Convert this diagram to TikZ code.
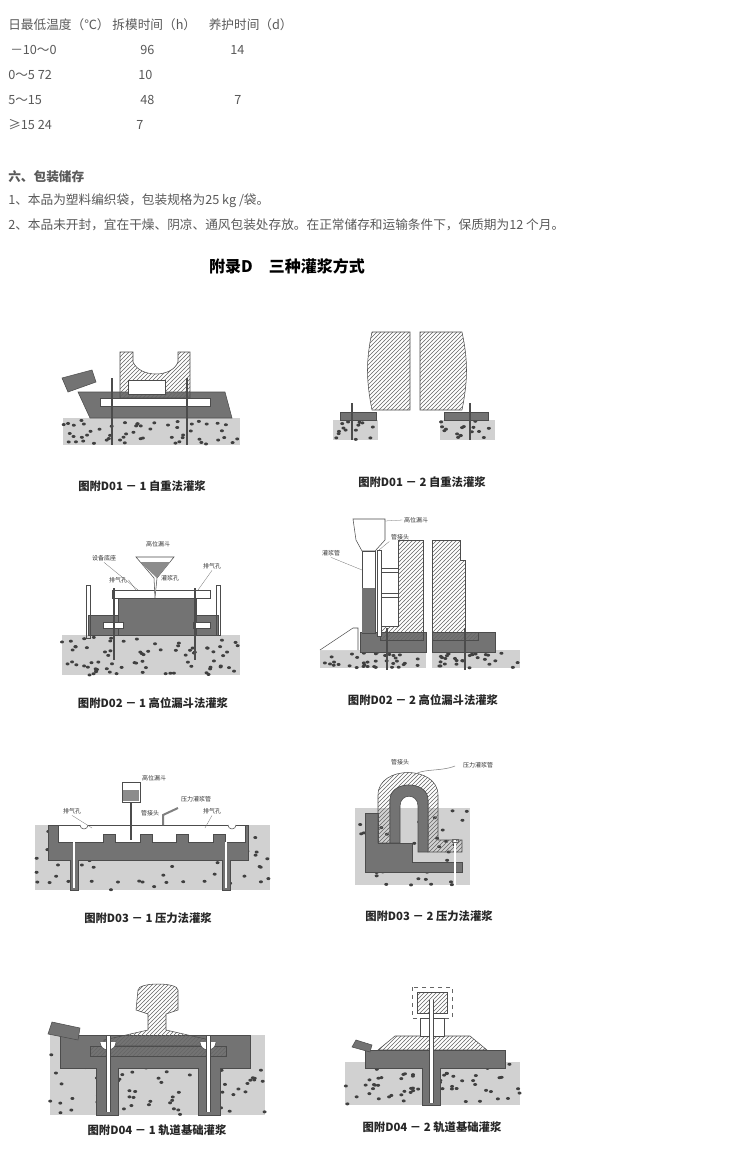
\documentclass[tikz,border=0pt]{standalone}
\usepackage{fontspec}
\newfontfamily\cjk{Noto Sans CJK SC}
\usetikzlibrary{patterns,calc}
\tikzset{
  txt/.style={anchor=west, inner sep=0pt, text=black!65, font=\cjk\fontsize{9.5}{11}\selectfont},
  figcap/.style={inner sep=0pt, text=black!85, font=\cjk\bfseries\fontsize{8.5}{10}\selectfont},
  lbl/.style={inner sep=1pt, text=black!80, font=\cjk\fontsize{4.5}{5}\selectfont},
  concrete/.style={fill=black!18, draw=none},
  grout/.style={fill=black!55, draw=black!70, thin},
  hatch/.style={pattern=north east lines, pattern color=black!60, draw=black!70, thin},
  plate/.style={fill=white, draw=black!70, thin},
  bolt/.style={line width=2.2pt, black!70},
  lead/.style={black!60, very thin},
}
\def\specks#1#2#3#4#5{%
  \foreach \k in {1,...,#5}{%
    \pgfmathsetmacro\sx{#1+rnd*(#3-#1)}%
    \pgfmathsetmacro\sy{#2+rnd*(#4-#2)}%
    \fill[black!75] (\sx,\sy) ellipse (2 and 1.5);}}
\begin{document}
\begin{tikzpicture}[x=0.75pt, y=-0.75pt]
  \pgfmathsetseed{7}
  \useasboundingbox[fill=white] (0,0) rectangle (741,1157);

  %% Table and text
  \node[txt] (h1) at (8,25) {日最低温度（℃） 拆模时间（h）\quad 养护时间（d）};
  \node[txt] (r1a) at (10,50) {－10～0};  \node[txt] (r1b) at (140,50) {96}; \node[txt] (r1c) at (230,50) {14};
  \node[txt] (r2a) at (8,75) {0～5 72};   \node[txt] (r2b) at (138,75) {10};
  \node[txt] (r3a) at (8,100) {5～15};    \node[txt] (r3b) at (140,100) {48}; \node[txt] (r3c) at (234,100) {7};
  \node[txt] (r4a) at (8,125) {≥15 24};   \node[txt] (r4b) at (136,125) {7};
  \node[txt, font=\cjk\bfseries\fontsize{9.5}{11}\selectfont] (sec) at (8,177) {六、包装储存};
  \node[txt] (p1) at (8,201) {1、本品为塑料编织袋，包装规格为25 kg /袋。};
  \node[txt] (p2) at (8,225) {2、本品未开封，宜在干燥、阴凉、通风包装处存放。在正常储存和运输条件下，保质期为12 个月。};
  \node[inner sep=0pt, font=\cjk\bfseries\fontsize{12}{14}\selectfont] (title) at (287,266) {附录D\quad 三种灌浆方式};

  %% D01-1
  \fill[concrete] (63,418) rectangle (240,445); \specks{63}{420}{240}{444}{55}
  \draw[grout] (78,392) -- (225,392) -- (232,418) -- (90,418) -- cycle;
  \draw[hatch] (120,352) -- (133,352) -- (133,362) .. controls (140,378) and (172,378) .. (178,362) -- (178,352) -- (190,352) -- (190,398) -- (120,398) -- cycle;
  \draw[plate] (128,380) rectangle (165,394);
  \draw[grout] (62,378) -- (92,370) -- (96,382) -- (68,392) -- cycle;
  \draw[plate] (100,398) rectangle (210,406);
  \foreach \bx in {112,187} \draw[bolt] (\bx,378) -- (\bx,445);
  \node[figcap] (c11) at (142,486) {图附D01 － 1\ 自重法灌浆};

  %% D01-2
  \draw[hatch] (372,332) -- (410,332) -- (410,410) -- (372,410) .. controls (366,380) and (366,360) .. (372,332);
  \draw[hatch] (420,332) -- (462,332) .. controls (468,360) and (468,380) .. (462,410) -- (420,410) -- cycle;
  \fill[concrete] (333,420) rectangle (378,440); \specks{333}{421}{378}{440}{14}
  \fill[concrete] (440,420) rectangle (495,440); \specks{440}{421}{495}{440}{16}
  \draw[grout] (340,412) rectangle (376,420);
  \draw[grout] (444,412) rectangle (488,420);
  \foreach \bx in {352,470} \draw[bolt] (\bx,403) -- (\bx,440);
  \node[figcap] (c12) at (422,482) {图附D01 － 2\ 自重法灌浆};

  %% D02-1
  \fill[concrete] (62,635) rectangle (240,675); \specks{62}{637}{240}{675}{75}
  \draw[grout] (88,615) rectangle (218,635);
  \draw[grout] (118,598) rectangle (196,635);
  \draw[plate] (103,622) rectangle (123,628);
  \draw[plate] (193,622) rectangle (210,628);
  \draw[plate] (112,590) rectangle (210,598);
  \draw[black!70] (86,585) rectangle (90,638);
  \draw[black!70] (216,585) rectangle (220,635);
  \draw[plate] (136,557) -- (174,557) -- (157,578) -- (155,598) -- (154,578) -- cycle;
  \fill[black!45] (140,562) -- (170,562) -- (157,578) -- cycle;
  \foreach \bx in {114,195} \draw[bolt] (\bx,588) -- (\bx,660);
  \node[lbl] (g1) at (158,544) {高位漏斗};
  \node[lbl] (g2) at (104,558) {设备底座};
  \node[lbl] (g3) at (212,566) {排气孔};
  \node[lbl] (g4) at (118,580) {排气孔};
  \node[lbl] (g5) at (170,578) {灌浆孔};
  \coordinate (t2) at (138,590); \coordinate (t3) at (198,590); \coordinate (t4) at (136,590);
  \draw[lead] (g2.south) -- (t2); \draw[lead] (g3.south) -- (t3); \draw[lead] (g4.east) -- (t4);
  \node[figcap] (c21) at (153,703) {图附D02 － 1\ 高位漏斗法灌浆};

  %% D02-2
  \fill[concrete] (320,650) rectangle (426,668); \specks{320}{652}{426}{668}{35}
  \fill[concrete] (432,650) rectangle (520,668); \specks{432}{652}{520}{668}{30}
  \draw[grout] (360,632) rectangle (426,652);
  \draw[grout] (432,632) rectangle (495,652);
  \draw[hatch] (398,540) -- (423,540) -- (423,632) -- (380,632) -- (380,626) -- (398,626) -- cycle;
  \draw[hatch] (432,540) -- (460,540) -- (460,560) -- (465,560) -- (465,632) -- (432,632) -- cycle;
  \draw[hatch] (380,632) rectangle (423,640);
  \draw[hatch] (432,632) rectangle (478,640);
  \draw[plate] (353,519) -- (385,519) -- (385,540) -- (375,551) -- (362,551) -- (356,540) -- cycle;
  \draw[plate] (362,551) rectangle (375,633);
  \fill[black!55] (362,588) rectangle (375,633);
  \draw[plate] (377,550) rectangle (381,636);
  \foreach \yy in {568,593} \draw[plate] (381,\yy) rectangle (398,\yy+4);
  \draw[plate] (320,650) -- (353,628) -- (358,628) -- (358,650);
  \foreach \bx in {387,465} \draw[bolt] (\bx,628) -- (\bx,670);
  \node[lbl] (q1) at (416,520) {高位漏斗};
  \node[lbl] (q2) at (400,537) {管接头};
  \node[lbl] (q3) at (331,553) {灌浆管};
  \coordinate (u1) at (385,521); \coordinate (u2) at (379,550); \coordinate (u3) at (362,570);
  \draw[lead] (q1.west) -- (u1); \draw[lead] (q2.south west) -- (u2); \draw[lead] (q3.south) -- (u3);
  \node[figcap] (c22) at (423,700) {图附D02 － 2\ 高位漏斗法灌浆};

  %% D03-1
  \fill[concrete] (35,825) rectangle (270,890); \specks{35}{827}{270}{890}{95}
  \draw[grout] (48,825) -- (248,825) -- (248,860) -- (230,860) -- (230,890) -- (222,890) -- (222,860) -- (78,860) -- (78,890) -- (70,890) -- (70,860) -- (48,860) -- cycle;
  \draw[plate] (58,825) -- (245,825) -- (245,842)
    \foreach \tx in {213,176,140,103} { -- (\tx+12,842) -- (\tx+12,834) -- (\tx,834) -- (\tx,842) } -- (58,842) -- cycle;
  \foreach \gx in {84,232} \draw[plate] (\gx-4,825) arc[start angle=180, end angle=0, radius=4];
  \foreach \bx in {74,226} \draw[white, line width=1.2pt] (\bx,842) -- (\bx,888);
  \draw[plate] (122,782) rectangle (140,802);
  \fill[black!45] (123,790) rectangle (139,801);
  \draw[black!70, line width=1.2pt] (131,802) -- (131,840);
  \draw[black!50, line width=1.5pt] (163,825) -- (163,815) -- (178,808);
  \node[lbl] (d1) at (154,778) {高位漏斗};
  \node[lbl] (d2) at (196,799) {压力灌浆管};
  \node[lbl] (d3) at (150,813) {管接头};
  \node[lbl] (d4) at (72,811) {排气孔};
  \node[lbl] (d5) at (212,811) {排气孔};
  \coordinate (e4) at (92,828); \coordinate (e5) at (205,828);
  \draw[lead] (d4.south) -- (e4); \draw[lead] (d5.south) -- (e5);
  \node[figcap] (c31) at (148,918) {图附D03 － 1\ 压力法灌浆};

  %% D03-2
  \fill[concrete] (355,808) rectangle (470,885); \specks{355}{810}{470}{885}{45}
  \draw[grout] (365,813) -- (378,813) -- (378,843) -- (412,843) -- (412,862) -- (462,862) -- (462,872) -- (365,872) -- cycle;
  \draw[hatch] (378,843) -- (378,795) .. controls (378,765) and (438,765) .. (438,795) -- (438,840) -- (462,840) -- (462,852) -- (428,852) -- (428,800) .. controls (428,780) and (390,780) .. (390,800) -- (390,843) -- cycle;
  \draw[grout] (390,843) -- (390,800) .. controls (390,780) and (428,780) .. (428,800) -- (428,852) -- (418,852) -- (418,806) .. controls (418,793) and (400,793) .. (400,806) -- (400,843) -- cycle;
  \draw[black!50] (413,776) .. controls (420,768) and (440,772) .. (455,766);
  \draw[white, line width=1.2pt] (455,840) -- (455,885);
  \draw[black!60] (452,839) rectangle (458,842);
  \node[lbl] (f1) at (400,762) {管接头};
  \node[lbl] (f2) at (478,765) {压力灌浆管};
  \node[figcap] (c32) at (429,916) {图附D03 － 2\ 压力法灌浆};

  %% D04-1
  \fill[concrete] (50,1035) rectangle (265,1115); \specks{50}{1037}{265}{1115}{85}
  \draw[grout] (60,1035) -- (250,1035) -- (250,1068) -- (220,1068) -- (220,1115) -- (198,1115) -- (198,1068) -- (118,1068) -- (118,1115) -- (96,1115) -- (96,1068) -- (60,1068) -- cycle;
  \draw[hatch] (90,1046) rectangle (226,1056);
  \draw[hatch] (138,990) .. controls (138,982) and (178,982) .. (178,990) -- (178,1010) -- (166,1014) -- (166,1030) -- (210,1040) -- (210,1046) -- (104,1046) -- (104,1040) -- (148,1030) -- (148,1014) -- (136,1010) -- cycle;
  \draw[grout] (52,1022) -- (80,1028) -- (78,1040) -- (48,1034) -- cycle;
  \foreach \bx in {108,208} {
    \draw[plate] (\bx-8,1042) arc[start angle=180, end angle=0, radius=8];
    \draw[white, line width=2.4pt] (\bx,1036) -- (\bx,1112);
    \draw[black!70, thin] (\bx-1.8,1036) -- (\bx-1.8,1112) (\bx+1.8,1036) -- (\bx+1.8,1112);}
  \node[figcap] (c41) at (157,1130) {图附D04 － 1\ 轨道基础灌浆};

  %% D04-2
  \fill[concrete] (345,1062) rectangle (520,1105); \specks{345}{1064}{520}{1105}{65}
  \draw[grout] (365,1050) -- (505,1050) -- (505,1068) -- (440,1068) -- (440,1105) -- (422,1105) -- (422,1068) -- (365,1068) -- cycle;
  \draw[hatch] (378,1050) -- (395,1036) -- (470,1036) -- (487,1050) -- cycle;
  \draw[black!60, dashed] (412,987) rectangle (452,1018);
  \draw[hatch] (417,992) rectangle (447,1013);
  \draw[plate] (420,1018) rectangle (444,1036);
  \draw[grout] (356,1040) -- (372,1045) -- (370,1052) -- (352,1047) -- cycle;
  \draw[white, line width=2.4pt] (431,1000) -- (431,1103);
  \draw[black!70, thin] (429.2,1000) -- (429.2,1103) (432.8,1000) -- (432.8,1103);
  \node[figcap] (c42) at (432,1127) {图附D04 － 2\ 轨道基础灌浆};
\end{tikzpicture}
\end{document}
